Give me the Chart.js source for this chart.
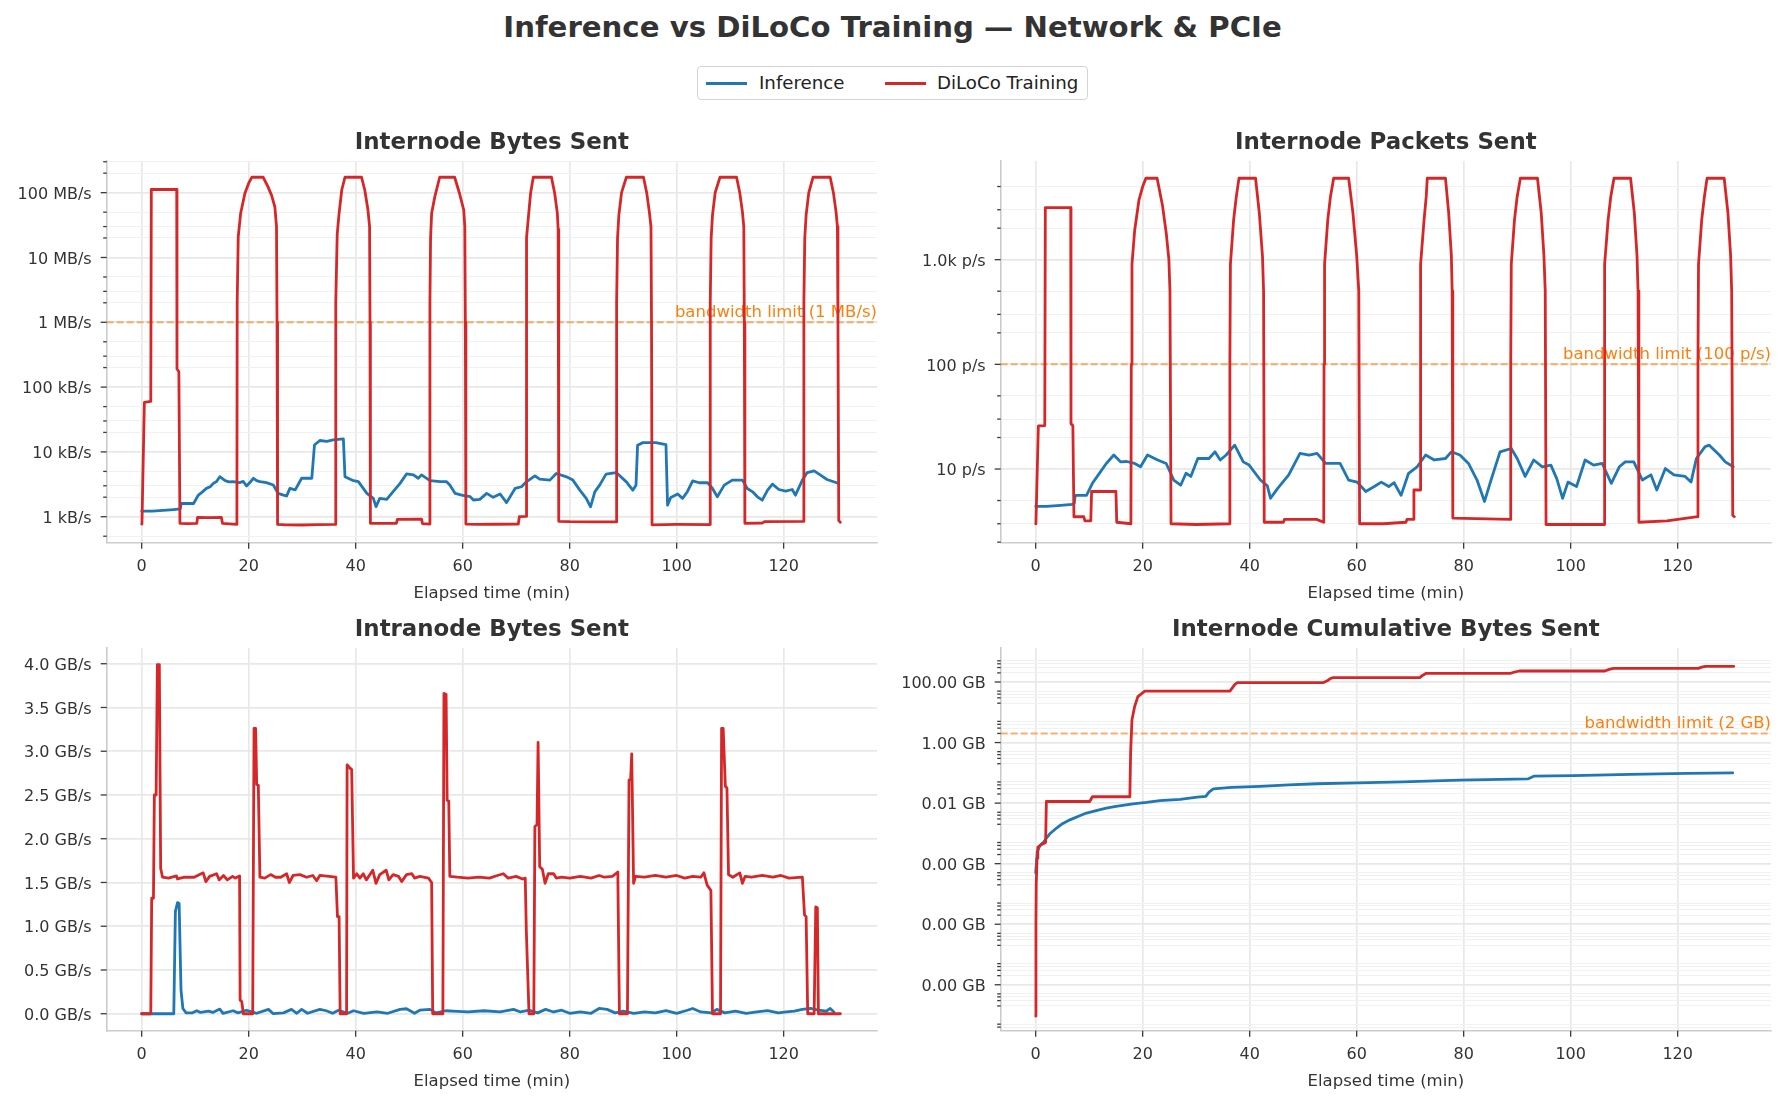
<!DOCTYPE html>
<html>
<head>
<meta charset="utf-8">
<script src="https://cdn.jsdelivr.net/npm/chart.js@4.4.1/dist/chart.umd.min.js"></script>
<style>
  html, body { margin: 0; padding: 0; background: #ffffff; }
  body { width: 1785px; height: 1105px; overflow: hidden; position: relative; font-family: "DejaVu Sans", sans-serif; }
  #suptitle { position: absolute; left: 0; top: 12.5px; width: 1785px; text-align: center; font-size: 29.2px; line-height: 29px; font-weight: bold; color: #333333; white-space: nowrap; }
  #legend { position: absolute; left: 697px; top: 66px; width: 389px; height: 32px; border: 1px solid #d4d4d4; border-radius: 4px; background: #ffffff; }
  #legend .hl { position: absolute; top: 14.5px; width: 41px; height: 3px; }
  #legend .lt { position: absolute; top: 0; line-height: 32px; font-size: 18.2px; color: #222222; white-space: nowrap; }
  .cell { position: absolute; }
</style>
</head>
<body>
<div id="suptitle">Inference vs DiLoCo Training — Network &amp; PCIe</div>
<div id="legend">
  <span class="hl" style="left:8px;background:#1f77b4"></span><span class="lt" style="left:61px">Inference</span>
  <span class="hl" style="left:187px;background:#d62728"></span><span class="lt" style="left:239px">DiLoCo Training</span>
</div>
<div class="cell" style="left:0px;top:110px;width:890px;height:495px"><canvas id="cBytes"></canvas></div>
<div class="cell" style="left:894px;top:110px;width:890px;height:495px"><canvas id="cPkts"></canvas></div>
<div class="cell" style="left:0px;top:597px;width:890px;height:496px"><canvas id="cPcie"></canvas></div>
<div class="cell" style="left:894px;top:597px;width:890px;height:496px"><canvas id="cCum"></canvas></div>
<script>
// ---------------- DATA ----------------
const seriesNames = ['Inference', 'DiLoCo Training'];
const timeTicks = [0, 20, 40, 60, 80, 100, 120];

// Internode bytes sent (B/s)
const infBytesT = [0,2,4,6,7.2,7.4,9.7,10.6,11.3,12.1,12.8,13.4,14.0,14.6,15.6,16.3,17.1,18.3,19.0,19.6,20.4,20.9,21.5,22.1,23.3,24.6,25.5,26.5,27.1,27.7,28.7,29.9,31.8,32.3,33.3,34.6,35.8,37.7,38.0,39.6,40.5,42.1,43.3,43.8,44.5,45.8,47.0,48.3,49.5,50.8,51.7,52.3,53.9,55.8,57.0,57.6,58.6,59.8,61.4,62.0,63.2,64.5,65.7,67.0,68.2,69.8,71.0,71.9,73.5,74.4,76.3,77.5,79.4,80.6,81.9,83.1,83.9,84.7,85.6,86.8,88.7,90.6,91.8,92.4,92.7,93.7,96.1,98.0,98.3,98.9,100.2,101.1,102.0,103.0,104.2,105.8,106.7,107.6,108.9,110.4,112.3,113.2,114.2,115.1,116.0,117.0,117.9,119.1,120.4,121.6,122.2,123.5,124.4,125.7,126.9,128.1,130.3];
const infBytesV = [1220,1220,1250,1290,1320,1600,1600,2160,2400,2740,2900,3270,3500,4150,3600,3450,3470,3350,3500,2980,3500,3920,3600,3470,3350,3090,2290,2150,2090,2740,2590,3920,3920,12800,15000,14500,15300,15900,4150,3600,3470,2290,1920,1430,1920,1850,2440,3270,4570,4420,3920,4420,3600,3470,3470,3090,2290,2160,2040,1810,1850,2290,1990,2240,1650,2730,2900,3450,4270,3800,3670,4640,4120,3670,2570,1920,1420,2420,3070,4540,4800,3450,2570,3070,12700,13900,13900,13000,1510,1980,2240,1920,2430,3580,3340,3340,2730,2030,3070,3670,3670,2730,2420,2030,1800,2570,3180,2630,2480,2630,2150,3670,4800,5100,4380,3750,3250];
const trainBytesT = [0,0.05,0.5,1.7,1.8,6.55,6.6,6.95,7.15,8.5,10.3,10.45,12.5,14.9,15.1,17.8,
  17.85,18.05,18.5,19.3,20.0,20.6,22.7,23.6,24.3,24.9,25.2,25.3,25.4,
  27,30,33,36.25,
  36.28,36.55,36.9,37.4,38.0,41.1,41.7,42.3,42.6,42.68,42.75,
  45,47.6,47.8,52.3,52.5,53.85,
  53.88,54.0,54.2,54.8,55.7,58.5,59.4,60.2,60.4,60.5,60.6,
  63,66,70.4,70.6,71.85,
  71.88,72.0,72.3,72.7,73.2,76.6,77.2,77.7,77.85,77.92,78.0,
  80,84,88.75,
  88.78,88.95,89.2,89.7,90.6,93.8,94.4,94.9,95.2,95.3,95.4,
  100,106.25,
  106.28,106.45,106.7,107.2,108.1,111.2,111.8,112.3,112.55,112.65,112.75,
  116,116.5,123.75,
  123.78,123.95,124.2,124.7,125.5,128.7,129.3,129.8,130.05,130.15,130.3,130.6];
const trainBytesV = [770,780,58000,60000,1.12e8,1.12e8,190000,172000,790,780,790,980,970,975,790,760,
  2e6,2.1e7,4.8e7,9.8e7,1.4e8,1.73e8,1.73e8,1.24e8,9e7,6e7,3e7,1e6,760,
  750,745,755,760,
  2e6,2.3e7,4.8e7,1.1e8,1.73e8,1.73e8,1.1e8,5.4e7,3e7,1e6,790,
  790,790,910,920,780,770,
  2e6,2e7,4.8e7,8.7e7,1.73e8,1.73e8,9.8e7,5.4e7,3e7,1e6,770,
  760,765,770,1000,1010,
  2e6,2e7,4.3e7,9.8e7,1.73e8,1.73e8,9.8e7,4.8e7,2.7e7,1e6,850,
  840,835,830,
  2e6,2e7,4.5e7,1e8,1.73e8,1.73e8,1e8,5e7,3e7,1e6,750,
  760,755,
  2e6,2e7,4.5e7,1e8,1.73e8,1.73e8,1e8,5e7,3e7,1e6,790,
  800,840,845,
  2e6,2e7,4.5e7,1e8,1.73e8,1.73e8,1e8,5e7,3e7,1e6,870,820];

// Internode packets sent (p/s)
const infPktT = [0,2,4.7,6.8,7.2,7.4,9.5,10.6,12.1,13.2,14.6,15.9,17.0,18.5,19.6,20.9,22.8,24.4,25.8,27.1,28.1,29.0,30.3,32.4,33.5,34.5,35.6,37.2,38.8,39.9,42.0,43.3,43.9,45.2,47.3,49.4,51.1,52.6,54.2,56.9,58.5,60.1,61.7,63.3,64.6,66.0,67.0,68.3,69.7,71.3,72.9,74.5,76.6,77.7,79.3,80.9,82.5,83.9,85.2,86.8,88.9,90.0,91.5,93.1,94.7,96.3,97.4,98.5,99.5,101.1,102.7,104.3,105.9,107.6,109.1,110.2,111.8,113.4,115.0,116.1,117.7,119.3,121.4,122.5,123.5,125.1,125.9,127.8,128.9,130.4];
const infPktV = [4.4,4.4,4.5,4.6,4.7,5.6,5.6,7.3,9.4,11.3,13.6,11.7,11.8,11.3,10.5,13.6,12.2,11.3,7.85,7.0,9.1,8.5,12.6,12.6,14.6,12.2,13.6,16.9,11.7,10.9,7.85,6.9,5.25,6.5,8.8,14.1,13.6,14.1,11.3,11.3,7.85,7.5,6.1,6.8,7.5,6.8,7.4,5.6,9.1,10.5,13.6,12.2,12.6,14.6,13.6,11.3,7.85,4.9,8.1,14.6,15.7,12.6,8.5,12.2,10.5,10.9,8.1,5.25,7.5,6.8,12.2,10.9,11.3,7.3,10.5,11.7,11.7,7.85,8.8,6.3,10.1,8.8,8.5,7.5,12.6,16.3,16.9,13.6,11.7,10.5];
const trainPktT = [0,0.05,0.5,1.7,1.8,6.55,6.6,6.95,7.15,9.0,9.2,10.3,10.45,15.0,15.15,17.8,
  17.87,18.0,18.5,19.3,20.0,20.6,22.7,23.7,24.4,24.9,25.1,25.3,
  30,36.25,
  36.3,36.4,37.0,37.5,38.0,41.1,41.8,42.4,42.6,42.72,
  46.3,46.5,52.5,53.85,
  53.9,54.0,54.6,55.1,55.7,58.5,59.3,60.0,60.4,60.55,
  65,69.2,69.4,70.6,70.7,71.85,
  71.9,72.0,72.6,73.0,73.2,76.6,77.2,77.7,77.85,77.97,
  88.75,
  88.8,88.9,89.5,90.0,90.6,93.8,94.5,95.0,95.25,95.4,
  106.25,
  106.3,106.4,107.0,107.5,108.1,111.2,111.9,112.4,112.6,112.75,
  118,123.75,
  123.8,123.9,124.5,125.0,125.5,128.7,129.4,129.9,130.1,130.3,130.6];
const trainPktV = [3.0,3.1,25.8,26,3140,3140,27,26,3.5,3.5,3.2,3.2,6.1,6.1,3.1,3.0,
  100,900,1900,3700,5000,6000,6000,3300,1800,1000,500,3.0,
  2.95,3.0,
  100,900,2400,4000,6000,6000,2800,1070,500,3.1,
  3.1,3.3,3.3,3.1,
  100,900,2400,4000,6000,6000,2800,1100,500,3.0,
  3.0,3.1,3.3,3.3,6.3,6.3,
  100,900,2400,4000,6000,6000,2800,1100,500,3.4,
  3.3,
  100,900,2400,4000,6000,6000,2800,1100,500,2.95,
  2.95,
  100,900,2400,4000,6000,6000,2800,1100,500,3.1,
  3.2,3.5,
  100,900,2400,4000,6000,6000,2800,1100,500,3.6,3.5];

// Intranode bytes sent (GB/s)
const infPcieT = [0,6.0,6.3,6.7,7.0,7.35,7.7,8.3,9.5,10.3,11.0,12.5,13.3,14.6,15.2,17.1,18.0,19.6,21.5,23.7,24.6,26.5,28.0,29.0,29.9,31.0,33.3,34.5,35.7,36.8,38.5,39.6,41.5,44.0,46.0,48.3,49.5,51.0,52.0,53.9,55.0,56.8,59.0,61.0,64.0,67.0,69.5,70.8,72.5,74.0,75.5,77.0,78.5,80.0,82.0,84.0,85.5,87.0,88.5,90.0,92.0,94.0,96.0,98.0,100.0,102.0,103.0,104.5,106.5,107.5,109.0,111.0,113.0,115.0,117.0,119.0,120.5,122.0,123.5,125.0,126.5,128.0,128.7,129.4];
const infPcieV = [0,0,1.17,1.27,1.26,0.27,0.06,0.01,0.01,0.034,0.015,0.03,0.015,0.053,0.005,0.034,0.01,0.04,0.005,0.05,0.0,0.01,0.05,0.005,0.05,0.005,0.05,0.034,0.005,0.04,0.005,0.034,0.005,0.02,0.005,0.05,0.057,0.005,0.04,0.05,0.01,0.034,0.026,0.02,0.034,0.02,0.05,0.02,0.04,0.01,0.05,0.02,0.04,0.005,0.02,0.005,0.06,0.05,0.01,0.03,0.005,0.02,0.01,0.035,0.005,0.04,0.06,0.02,0.01,0.05,0.01,0.03,0.005,0.02,0.035,0.01,0.02,0.03,0.05,0.06,0.04,0.03,0.06,0.02];
const trainPcieT = [0,1.7,1.87,2.2,2.37,2.7,2.93,3.3,3.55,3.9,5.0,6.5,6.7,8.0,9.8,11.5,12.0,12.7,14.0,14.5,15.3,16.0,17.0,17.5,18.3,
  18.4,18.7,19.0,20.75,21.0,21.3,21.5,21.8,22.1,23.0,24.1,25.0,26.0,27.1,27.6,28.3,29.6,30.8,32.0,32.7,33.3,35.0,36.3,
  36.6,36.9,37.1,38.3,38.4,38.9,39.25,39.6,40.2,40.8,41.4,42.0,43.2,43.8,44.5,45.7,46.2,47.0,48.0,48.6,49.5,50.5,51.0,52.0,53.6,54.2,
  54.4,56.3,56.5,56.9,57.1,57.4,57.6,59.0,61.0,63.0,65.0,66.5,67.6,68.5,70.0,71.2,71.7,
  71.9,72.4,73.3,73.5,73.9,74.1,74.4,74.9,75.4,76.0,77.0,77.5,78.5,80.0,82.0,84.0,85.5,86.5,88.0,89.0,
  89.3,90.8,91.1,91.4,91.6,91.95,92.3,94.0,96.0,98.0,100.0,101.5,103.0,104.5,105.1,105.7,106.4,
  106.7,108.2,108.4,108.7,109.1,109.4,109.7,110.5,111.8,112.3,112.8,114.0,116.0,118.0,119.5,121.0,123.5,
  123.9,124.2,124.5,125.7,126.0,126.3,126.5,130.6];
const trainPcieV = [0,0,1.32,1.32,2.5,2.5,3.99,3.99,1.66,1.56,1.55,1.575,1.54,1.56,1.56,1.61,1.51,1.57,1.6,1.53,1.58,1.53,1.57,1.55,1.575,
  0.156,0.14,0,0,3.26,3.26,2.62,2.61,1.56,1.55,1.59,1.56,1.56,1.6,1.5,1.58,1.59,1.56,1.58,1.52,1.58,1.57,1.56,
  1.11,1.11,0,0,2.845,2.81,2.79,1.55,1.6,1.55,1.6,1.53,1.64,1.49,1.59,1.64,1.53,1.59,1.57,1.51,1.59,1.6,1.55,1.57,1.55,1.5,
  0,0,3.66,3.65,2.44,2.43,1.57,1.56,1.55,1.56,1.55,1.58,1.6,1.55,1.57,1.54,1.55,
  0.95,0,0,2.14,2.16,3.10,1.68,1.65,1.49,1.6,1.6,1.55,1.56,1.55,1.57,1.55,1.58,1.56,1.57,1.62,
  0,0,2.67,2.68,2.97,1.49,1.57,1.56,1.58,1.56,1.58,1.55,1.57,1.56,1.61,1.47,1.41,
  0,0,3.26,3.26,2.6,2.58,1.59,1.56,1.61,1.49,1.57,1.56,1.58,1.56,1.58,1.55,1.56,
  1.13,1.11,0,0,1.22,1.21,0,0];

// Internode cumulative bytes sent (GB)
const infCumT = [0,0.3,0.8,1.5,2.0,2.6,3.9,5.0,6.4,8.0,9.5,11.5,13.2,15.0,18.2,20.7,23.2,27.0,30.2,31.8,32.4,33.2,36.6,42.0,47.3,52.6,57.9,68.6,79.2,92.0,93.1,100.5,111.2,121.8,130.3];
const infCumV = [5e-5,2.5e-4,4e-4,5.2e-4,6.9e-4,9.5e-4,1.5e-3,2.1e-3,2.8e-3,3.7e-3,4.7e-3,5.8e-3,6.8e-3,7.8e-3,9.5e-3,0.0105,0.012,0.0132,0.0158,0.0166,0.023,0.0295,0.033,0.0355,0.040,0.0436,0.0457,0.050,0.0575,0.063,0.0776,0.081,0.089,0.0955,0.1];
const trainCumT = [0,0.05,0.1,0.25,0.4,1.3,1.85,2.0,10.1,10.6,17.6,17.75,18.0,18.5,19.1,20.4,36.3,36.7,37.2,37.7,53.7,54.5,55.0,55.6,71.8,72.3,73.0,88.8,89.5,90.4,106.4,107.2,108.0,123.9,124.5,125.2,130.5];
const trainCumV = [9.3e-10,1e-6,2e-5,1.5e-4,3.5e-4,4.5e-4,5e-4,0.0113,0.0113,0.0162,0.0162,0.5,5.7,15.5,33,50,50,62,82,95,95,110,128,139,139,165,194,194,214,231,231,262,283,283,310,330,330];

// Tick labels
const bytesTickValues = [1e3, 1e4, 1e5, 1e6, 1e7, 1e8];
const bytesTickLabels = ['1 kB/s', '10 kB/s', '100 kB/s', '1 MB/s', '10 MB/s', '100 MB/s'];
const pktTickValues = [10, 100, 1000];
const pktTickLabels = ['10 p/s', '100 p/s', '1.0k p/s'];
const pcieTickValues = [0, 0.5, 1, 1.5, 2, 2.5, 3, 3.5, 4];
const pcieTickLabels = ['0.0 GB/s', '0.5 GB/s', '1.0 GB/s', '1.5 GB/s', '2.0 GB/s', '2.5 GB/s', '3.0 GB/s', '3.5 GB/s', '4.0 GB/s'];
const cumTickValues = [1e-8, 1e-6, 1e-4, 1e-2, 1, 100];
const cumTickLabels = ['0.00 GB', '0.00 GB', '0.00 GB', '0.01 GB', '1.00 GB', '100.00 GB'];

// Bandwidth limits
const bytesLimit = 1e6, bytesLimitLabel = 'bandwidth limit (1 MB/s)';
const pktLimit = 100, pktLimitLabel = 'bandwidth limit (100 p/s)';
const cumLimit = 2, cumLimitLabel = 'bandwidth limit (2 GB)';

const panelTitles = ['Internode Bytes Sent', 'Internode Packets Sent', 'Intranode Bytes Sent', 'Internode Cumulative Bytes Sent'];
const xAxisTitle = 'Elapsed time (min)';

// ---------------- STYLE ----------------
const BLUE = '#1f77b4', RED = '#d62728', ORANGE = '#ff7f0e';
const FONT = "'DejaVu Sans', 'Liberation Sans', sans-serif";
const INK = '#333333';
const GRID_MAJOR = '#e8e8e8', GRID_MINOR = '#f1f1f1';
const SPINE = '#cccccc';

const pts = (t, v) => t.map((x, i) => ({ x: x, y: v[i] }));

function logTicks(majors, subs, min, max) {
  const out = [];
  const lo = Math.floor(Math.log10(min)), hi = Math.ceil(Math.log10(max));
  for (let e = lo; e <= hi; e++) {
    const dec = Number('1e' + e);
    if (majors.some(m => Math.abs(Math.log10(m) - e) < 1e-9)) out.push(dec);
    subs.forEach(s => out.push(Number(s + 'e' + e)));
  }
  return out.filter(v => v >= min && v <= max).sort((a, b) => a - b);
}
function majorTest(majors) {
  return v => majors.some(m => Math.abs(m - v) <= Math.abs(m) * 1e-9 + 1e-12);
}
function labelFor(majors, labels) {
  const isMaj = majorTest(majors);
  return v => {
    if (!isMaj(v)) return '';
    const i = majors.findIndex(m => Math.abs(m - v) <= Math.abs(m) * 1e-9 + 1e-12);
    return labels[i];
  };
}

const limitPlugin = {
  id: 'limitLine',
  beforeDatasetsDraw(chart, args, opts) {
    if (opts.value === undefined || opts.value === null) return;
    const a = chart.chartArea, ctx = chart.ctx;
    const y = chart.scales.y.getPixelForValue(opts.value);
    ctx.save();
    ctx.strokeStyle = 'rgba(255,127,14,0.6)';
    ctx.lineWidth = 2;
    ctx.setLineDash([7, 3]);
    ctx.beginPath(); ctx.moveTo(a.left, y); ctx.lineTo(a.right, y); ctx.stroke();
    ctx.setLineDash([]);
    ctx.fillStyle = ORANGE;
    ctx.font = '16.5px ' + FONT;
    ctx.textAlign = 'right';
    ctx.textBaseline = 'bottom';
    ctx.fillText(opts.label, a.right, y - 1);
    ctx.restore();
  }
};

function makeChart(id, cfg) {
  const isMaj = majorTest(cfg.yMajors);
  const tickPlugin = {
    id: 'tickMarks',
    afterDraw(chart) {
      const a = chart.chartArea, ctx = chart.ctx;
      ctx.save();
      ctx.strokeStyle = '#3a3a3a';
      ctx.lineWidth = 1.3;
      const xs = chart.scales.x, ys = chart.scales.y;
      xs.ticks.forEach(t => {
        const px = xs.getPixelForValue(t.value);
        ctx.beginPath(); ctx.moveTo(px, a.bottom); ctx.lineTo(px, a.bottom + 6); ctx.stroke();
      });
      ys.ticks.forEach(t => {
        const py = ys.getPixelForValue(t.value);
        if (py < a.top - 0.5 || py > a.bottom + 0.5) return;
        const len = isMaj(t.value) ? 6 : 3.5;
        ctx.beginPath(); ctx.moveTo(a.left - len, py); ctx.lineTo(a.left, py); ctx.stroke();
      });
      ctx.restore();
    }
  };
  return new Chart(document.getElementById(id), {
    type: 'line',
    data: {
      datasets: [
        { label: seriesNames[1], data: pts(cfg.trainT, cfg.trainV), borderColor: RED, backgroundColor: RED, order: 0 },
        { label: seriesNames[0], data: pts(cfg.infT, cfg.infV), borderColor: BLUE, backgroundColor: BLUE, order: 1 }
      ]
    },
    plugins: [limitPlugin, tickPlugin],
    options: {
      responsive: true,
      maintainAspectRatio: false,
      animation: false,
      events: [],
      parsing: false,
      layout: { padding: { left: 0, right: 13, top: 0, bottom: 0 } },
      datasets: { line: { borderWidth: 2.8, pointRadius: 0, tension: 0, fill: false, borderJoinStyle: 'round', borderCapStyle: 'round' } },
      plugins: {
        legend: { display: false },
        tooltip: { enabled: false },
        title: {
          display: true, text: cfg.title, fullSize: false, color: INK,
          font: { family: FONT, size: 22.9, weight: 'bold', lineHeight: 1.2 },
          padding: { top: 19.4, bottom: 4.1 }
        },
        limitLine: { value: cfg.limit, label: cfg.limitLabel }
      },
      scales: {
        x: {
          type: 'linear', min: -6.54, max: 137.45, bounds: 'data',
          afterBuildTicks: s => { s.ticks = timeTicks.map(v => ({ value: v })); },
          afterFit: s => { s.height = 62.3; },
          ticks: { autoSkip: false, maxRotation: 0, padding: 15, color: INK, font: { family: FONT, size: 16 }, callback: v => String(v) },
          grid: { color: GRID_MAJOR, lineWidth: 1.7, drawTicks: false },
          border: { display: true, color: SPINE, width: 1.6 },
          title: { display: true, text: xAxisTitle, color: INK, font: { family: FONT, size: 16.5 }, padding: { top: 0, bottom: 1.1 } }
        },
        y: {
          type: cfg.yType, min: cfg.yMin, max: cfg.yMax, bounds: 'data',
          afterBuildTicks: s => { s.ticks = cfg.yTicks.map(v => ({ value: v })); },
          afterFit: s => { s.width = 106.7; },
          ticks: { autoSkip: false, padding: 15, labelOffset: 2, color: INK, font: { family: FONT, size: 16 }, callback: labelFor(cfg.yMajors, cfg.yLabels) },
          grid: {
            drawTicks: false,
            color: c => (c.tick && isMaj(c.tick.value)) ? GRID_MAJOR : GRID_MINOR,
            lineWidth: c => (c.tick && isMaj(c.tick.value)) ? 1.7 : 1.1
          },
          border: { display: true, color: SPINE, width: 1.6 }
        }
      }
    }
  });
}

const bytesMin = Math.pow(10, 2.599), bytesMax = Math.pow(10, 8.489);
makeChart('cBytes', {
  title: panelTitles[0], infT: infBytesT, infV: infBytesV, trainT: trainBytesT, trainV: trainBytesV,
  yType: 'logarithmic', yMin: bytesMin, yMax: bytesMax,
  yTicks: logTicks(bytesTickValues, [2, 3, 5], bytesMin, bytesMax),
  yMajors: bytesTickValues, yLabels: bytesTickLabels, limit: bytesLimit, limitLabel: bytesLimitLabel
});
const pktMin = Math.pow(10, 0.296), pktMax = Math.pow(10, 3.943);
makeChart('cPkts', {
  title: panelTitles[1], infT: infPktT, infV: infPktV, trainT: trainPktT, trainV: trainPktV,
  yType: 'logarithmic', yMin: pktMin, yMax: pktMax,
  yTicks: logTicks(pktTickValues, [2, 3, 5], pktMin, pktMax),
  yMajors: pktTickValues, yLabels: pktTickLabels, limit: pktLimit, limitLabel: pktLimitLabel
});
makeChart('cPcie', {
  title: panelTitles[2], infT: infPcieT, infV: infPcieV, trainT: trainPcieT, trainV: trainPcieV,
  yType: 'linear', yMin: -0.194, yMax: 4.18,
  yTicks: pcieTickValues, yMajors: pcieTickValues, yLabels: pcieTickLabels, limit: null, limitLabel: ''
});
const cumMin = Math.pow(10, -9.517), cumMax = Math.pow(10, 3.124);
makeChart('cCum', {
  title: panelTitles[3], infT: infCumT, infV: infCumV, trainT: trainCumT, trainV: trainCumV,
  yType: 'logarithmic', yMin: cumMin, yMax: cumMax,
  yTicks: logTicks(cumTickValues, [2, 3, 4, 5], cumMin, cumMax),
  yMajors: cumTickValues, yLabels: cumTickLabels, limit: cumLimit, limitLabel: cumLimitLabel
});
</script>
</body>
</html>
